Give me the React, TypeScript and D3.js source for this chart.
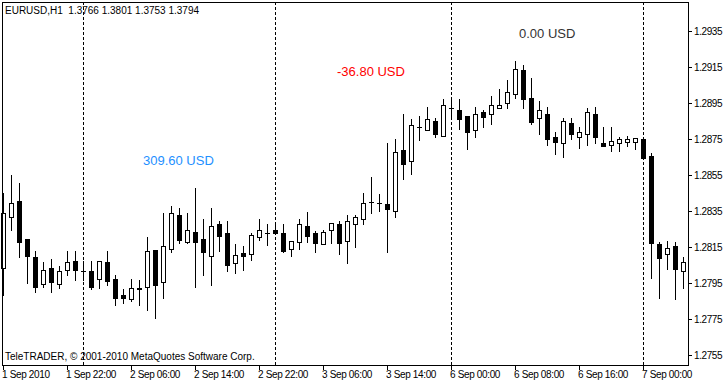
import React from "react";
import * as d3 from "d3";

const opens = [1.28032,1.28315,1.28406,1.28193,1.28093,1.27943,1.28033,1.27943,1.28021,1.28072,1.28018,1.28015,1.27971,1.28065,1.27971,1.27883,1.27859,1.27924,1.27929,1.28133,1.27954,1.28141,1.28328,1.28179,1.28233,1.28194,1.28102,1.28278,1.28229,1.28063,1.28115,1.28113,1.28204,1.28229,1.28244,1.28226,1.28141,1.28176,1.28265,1.28228,1.28165,1.28243,1.28276,1.28182,1.28279,1.28304,1.28402,1.28393,1.28389,1.28352,1.28687,1.28626,1.28815,1.28798,1.28848,1.28765,1.28922,1.28909,1.28876,1.28798,1.28898,1.28887,1.28924,1.28948,1.29,1.29132,1.28976,1.28865,1.28887,1.28759,1.28726,1.28837,1.28759,1.28776,1.28887,1.28728,1.28717,1.28726,1.28735,1.28735,1.28748,1.28656,1.28167,1.28111,1.28156,1.28018];
const highs = [1.28448,1.2855,1.28504,1.28193,1.28129,1.28065,1.28083,1.28043,1.28128,1.28128,1.28072,1.28072,1.28071,1.28128,1.27993,1.27915,1.27972,1.27967,1.28204,1.28133,1.28341,1.28378,1.28365,1.28339,1.28476,1.28304,1.28365,1.28293,1.28293,1.28167,1.28156,1.28228,1.28306,1.28278,1.28278,1.28278,1.28183,1.28304,1.28344,1.28241,1.28244,1.28282,1.28294,1.28328,1.28328,1.28448,1.28537,1.28444,1.28729,1.28748,1.28891,1.28859,1.28878,1.28926,1.28867,1.28971,1.28976,1.28971,1.28876,1.28926,1.28911,1.28989,1.29028,1.29076,1.29183,1.29159,1.29089,1.28961,1.28926,1.28789,1.28867,1.28868,1.28817,1.28922,1.28928,1.28818,1.28818,1.28759,1.28767,1.28757,1.28748,1.28671,1.28176,1.28183,1.28176,1.28096];
const lows = [1.27883,1.28244,1.28096,1.27952,1.27902,1.27929,1.27902,1.27921,1.27993,1.27967,1.27967,1.27915,1.27921,1.27939,1.27828,1.27837,1.27852,1.27828,1.278,1.27754,1.27868,1.28122,1.28174,1.28174,1.27929,1.27994,1.27939,1.28129,1.28018,1.28006,1.28022,1.28078,1.28189,1.28161,1.28222,1.28124,1.281,1.28139,1.28179,1.28124,1.28165,1.28174,1.28111,1.28063,1.28152,1.28278,1.28341,1.28352,1.28124,1.28315,1.28526,1.28554,1.28744,1.28798,1.28759,1.28765,1.28859,1.28807,1.28696,1.28759,1.28814,1.28835,1.2892,1.2892,1.28976,1.2892,1.28835,1.28776,1.28717,1.28665,1.28648,1.28748,1.28698,1.28717,1.28728,1.28709,1.28685,1.28685,1.28711,1.28696,1.28643,1.27979,1.27868,1.28028,1.27861,1.27921];
const closes = [1.28337,1.28393,1.28179,1.28102,1.27929,1.28021,1.27954,1.28015,1.28065,1.28021,1.28018,1.27929,1.28071,1.27963,1.27868,1.27868,1.27921,1.27915,1.28128,1.27939,1.28156,1.28337,1.28189,1.28243,1.28179,1.28124,1.28265,1.28213,1.28052,1.28104,1.28102,1.28215,1.28243,1.28229,1.28229,1.28129,1.28183,1.28276,1.28213,1.28174,1.28233,1.28282,1.28174,1.28293,1.28315,1.28393,1.28402,1.28393,1.28363,1.28678,1.28613,1.28826,1.28815,1.28859,1.28776,1.28937,1.28922,1.28863,1.28787,1.28889,1.28875,1.28937,1.28937,1.29009,1.29137,1.28971,1.28846,1.28909,1.28748,1.28735,1.28848,1.28776,1.28787,1.28898,1.28763,1.28709,1.28739,1.28748,1.28748,1.28757,1.28646,1.28174,1.28091,1.28146,1.28028,1.28065];

const timeLabels = ["1 Sep 2010","1 Sep 22:00","2 Sep 06:00","2 Sep 14:00","2 Sep 22:00","3 Sep 06:00","3 Sep 14:00","6 Sep 00:00","6 Sep 08:00","6 Sep 16:00","7 Sep 00:00"];
const timeLabelBars = [0,8,16,24,32,40,48,56,64,72,80];
const daySeparatorBars = [10,34,56,80];
const priceTicks = [1.2935,1.2915,1.2895,1.2875,1.2855,1.2835,1.2815,1.2795,1.2775,1.2755];

const headerText = "EURUSD,H1  1.3766 1.3801 1.3753 1.3794";
const copyrightText = "TeleTRADER, \u00A9 2001-2010 MetaQuotes Software Corp.";
const profitLabels = [
  { text: "309.60 USD", bar: 17.5, price: 1.28608, color: "#1E90FF" },
  { text: "-36.80 USD", bar: 41.75, price: 1.29102, color: "#FF0000" },
  { text: "0.00 USD", bar: 64.5, price: 1.29313, color: "#333333" },
];

const W = 726, H = 383;
const left = 2, right = 688, top = 2, bottom = 365;

export default function App() {
  const x = d3.scaleLinear().domain([0, 85]).range([3, 683]);
  const y = d3.scaleLinear().domain([1.2755, 1.2935]).range([355, 31]);
  const font = "'Liberation Sans', Arial, sans-serif";

  const candles = opens.map((o, i) => {
    const cx = Math.round(x(i));
    const c = closes[i];
    const yh = Math.round(y(highs[i]));
    const yl = Math.round(y(lows[i]));
    const yTop = Math.round(y(Math.max(o, c)));
    const yBot = Math.round(y(Math.min(o, c)));
    const bull = c >= o;
    return (
      <g key={i}>
        <line x1={cx + 0.5} x2={cx + 0.5} y1={yh} y2={yl + 1} stroke="#000" strokeWidth={1} />
        {yBot - yTop < 1 ? (
          <line x1={cx - 2} x2={cx + 3} y1={yTop + 0.5} y2={yTop + 0.5} stroke="#000" strokeWidth={1} />
        ) : (
          <rect x={cx - 1.5} y={yTop + 0.5} width={4} height={yBot - yTop} fill={bull ? "#fff" : "#000"} stroke="#000" strokeWidth={1} />
        )}
      </g>
    );
  });

  return (
    <svg width={W} height={H} style={{ position: "absolute", left: 0, top: 0, background: "#fff" }} fontFamily={font}>
      <rect x={0} y={0} width={W} height={H} fill="#fff" />
      {daySeparatorBars.map((b) => {
        const cx = Math.round(x(b)) + 0.5;
        return <line key={b} x1={cx} x2={cx} y1={top} y2={bottom} stroke="#000" strokeWidth={1} strokeDasharray="3,2" />;
      })}
      {candles}
      <rect x={left + 0.5} y={top + 0.5} width={right - left} height={bottom - top} fill="none" stroke="#000" strokeWidth={1} />
      {priceTicks.map((p) => {
        const py = Math.round(y(p)) + 0.5;
        return (
          <g key={p}>
            <line x1={right} x2={right + 4} y1={py} y2={py} stroke="#000" strokeWidth={1} />
            <text x={right + 6} y={py + 3.5} fontSize={10} letterSpacing={-0.4} fill="#000">{p.toFixed(4)}</text>
          </g>
        );
      })}
      {timeLabels.map((t, i) => {
        const tx = Math.round(x(timeLabelBars[i])) + 0.5;
        return (
          <g key={t}>
            <line x1={tx} x2={tx} y1={bottom} y2={bottom + 5} stroke="#000" strokeWidth={1} />
            <text x={tx - 1.5} y={377.5} fontSize={10} letterSpacing={-0.35} fill="#000">{t}</text>
          </g>
        );
      })}
      <text x={5} y={14} fontSize={10} fill="#000" style={{ whiteSpace: "pre" }}>{headerText}</text>
      <text x={5} y={360} fontSize={10} fill="#000">{copyrightText}</text>
      {profitLabels.map((l) => (
        <text key={l.text} x={x(l.bar)} y={y(l.price)} fontSize={13} fill={l.color}>{l.text}</text>
      ))}
    </svg>
  );
}
